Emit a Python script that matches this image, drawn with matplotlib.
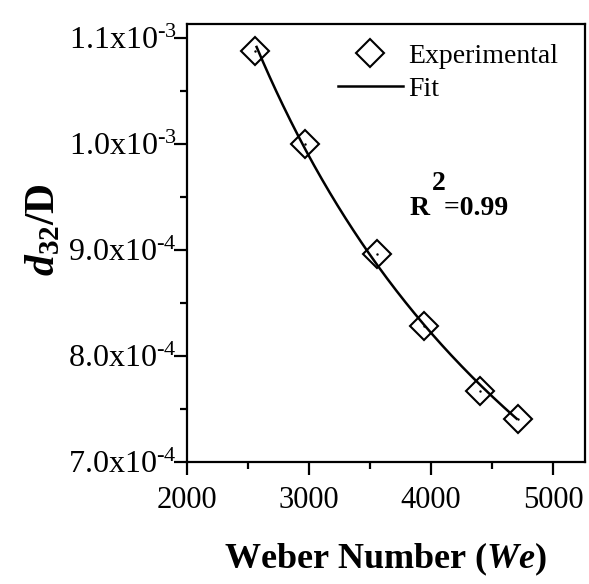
"""Sauter mean diameter vs Weber number, with power-law fit."""

import numpy as np
import matplotlib
matplotlib.use("Agg")
import matplotlib.pyplot as plt
from matplotlib.ticker import FixedLocator, MultipleLocator

plt.rcParams["font.family"] = ["Liberation Serif", "DejaVu Serif"]
plt.rcParams["mathtext.fontset"] = "custom"
plt.rcParams["mathtext.rm"] = "Liberation Serif"
plt.rcParams["mathtext.it"] = "Liberation Serif:italic"
plt.rcParams["mathtext.bf"] = "Liberation Serif:bold"
plt.rcParams["mathtext.bfit"] = "Liberation Serif:italic:bold"

# Data
weber = [2556, 2965, 3559, 3938, 4396, 4709]
d32_D = [1.0878e-3, 0.9995e-3, 0.8962e-3, 0.8281e-3, 0.7670e-3, 0.7410e-3]

y_ticks = [7.0e-4, 8.0e-4, 9.0e-4, 1.0e-3, 1.1e-3]
y_tick_labels = [r"7.0x10$^{\text{-4}}$", r"8.0x10$^{\text{-4}}$",
                 r"9.0x10$^{\text{-4}}$", r"1.0x10$^{\text{-3}}$",
                 r"1.1x10$^{\text{-3}}$"]
x_ticks = [2000, 3000, 4000, 5000]

# Power law fit  d32/D = a * We^b
b, log_a = np.polyfit(np.log(weber), np.log(d32_D), 1)
we_fit = np.linspace(2570, 4700, 200)
fit = np.exp(log_a) * we_fit ** b

fig = plt.figure(figsize=(5.89, 5.84), dpi=100)
ax = fig.add_axes([0.3175, 0.2089, 0.6757, 0.75])

ax.plot(we_fit, fit, "-", color="black", lw=1.8, label="Fit")
ax.plot(weber, d32_D, "D", ms=14, mfc="none", mec="black", mew=1.5,
        label="Experimental")
ax.plot(weber, d32_D, ".", ms=1.5, color="black")

ax.set_xlim(2000, 5260)
ax.set_ylim(7.0e-4, 1.113e-3)
ax.xaxis.set_major_locator(FixedLocator(x_ticks))
ax.xaxis.set_minor_locator(MultipleLocator(500))
ax.set_yticks(y_ticks)
ax.set_yticklabels(y_tick_labels)
ax.yaxis.set_minor_locator(MultipleLocator(0.5e-4))

for s in ax.spines.values():
    s.set_linewidth(1.6)
ax.tick_params(which="major", direction="out", length=9.5, width=1.6,
               labelsize=22)
ax.tick_params(which="minor", direction="out", length=5, width=1.6)
ax.tick_params(axis="y", pad=-2, labelsize=23)
ax.tick_params(axis="x", pad=8)

ax.set_xlabel(r"Weber Number ($\mathbfit{We}$)", fontsize=26,
              fontweight="bold", labelpad=18)
ax.set_ylabel(r"$\mathbfit{d}_{\mathbf{32}}$/D", fontsize=30,
              fontweight="bold")
ax.yaxis.set_label_coords(-0.31, 0.53)

handles, labels = ax.get_legend_handles_labels()
ax.legend(handles[::-1], labels[::-1], loc="upper right",
          bbox_to_anchor=(0.982, 1.0), frameon=False,
          fontsize=20, handlelength=2.35, handletextpad=0.2,
          borderaxespad=0.3, labelspacing=0.28)

ax.text(0.56, 0.564, "R  =0.99", transform=ax.transAxes, fontsize=20,
        fontweight="bold")
ax.text(0.615, 0.621, "2", transform=ax.transAxes, fontsize=20,
        fontweight="bold")

fig.savefig("out.png", dpi=100)
